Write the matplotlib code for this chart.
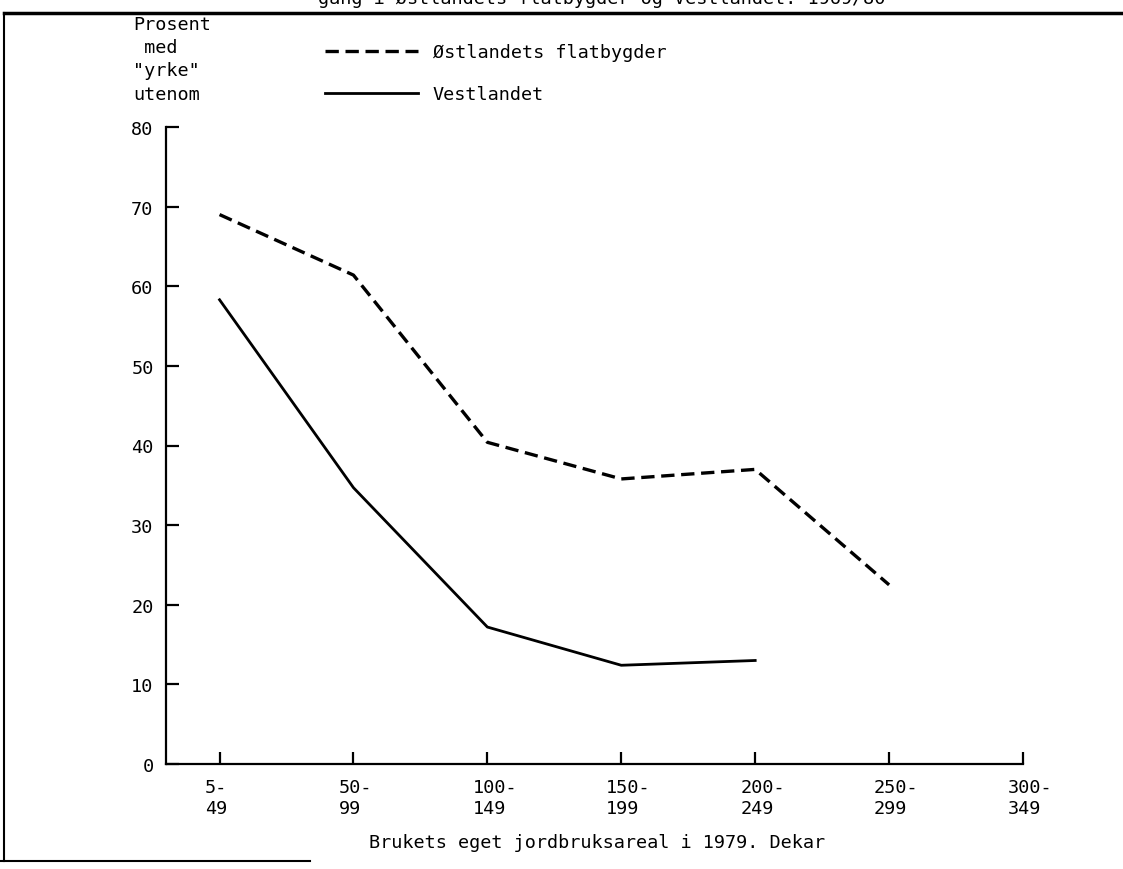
import matplotlib.pyplot as plt
import matplotlib.transforms as mtransforms
from matplotlib.lines import Line2D

# arealgrupper (dekar) og prosent med "yrke" utenom
groups = ["5-\n49", "50-\n99", "100-\n149", "150-\n199", "200-\n249", "250-\n299", "300-\n349"]
ostlandet = [69.0, 61.4, 40.4, 35.8, 37.0, 22.5]
vestlandet = [58.3, 34.7, 17.2, 12.4, 13.0]
yticks = [0, 10, 20, 30, 40, 50, 60, 70, 80]

W, H = 1123, 870
plt.rcParams["font.family"] = ["DejaVu Sans Mono"]
plt.rcParams["font.size"] = 13.3

fig = plt.figure(figsize=(W / 100, H / 100), dpi=100)

def fx(px):
    return px / W

def fy(py):
    return 1 - py / H

ax = fig.add_axes([fx(166), fy(765), fx(1023) - fx(166), fy(128) - fy(765)])

l1, = ax.plot(range(len(ostlandet)), ostlandet, color="black", lw=2.4,
              linestyle=(0, (4.0, 2.0)), dash_capstyle="butt")
l2, = ax.plot(range(len(vestlandet)), vestlandet, color="black", lw=2.0)

ax.set_xlim(-0.4, len(groups) - 1)
ax.set_ylim(0, 80)
for s in ["top", "right"]:
    ax.spines[s].set_visible(False)
for s in ["left", "bottom"]:
    ax.spines[s].set_linewidth(1.6)

ax.set_yticks(yticks)
ax.set_yticklabels([str(v) for v in yticks])
ax.set_xticks(range(len(groups)))
ax.set_xticklabels(groups, ha="left", multialignment="left", linespacing=1.25)
ax.tick_params(axis="both", direction="in", length=9, width=1.6, color="black")
ax.tick_params(axis="y", pad=9)
ax.tick_params(axis="x", pad=10)
offset = mtransforms.ScaledTranslation(-0.15, 0, fig.dpi_scale_trans)
for lab in ax.get_xticklabels():
    lab.set_transform(lab.get_transform() + offset)

fig.text(fx(597), fy(843), "Brukets eget jordbruksareal i 1979. Dekar",
         ha="center", va="center")

# y-aksetekst oppe til venstre
for txt, y in [("Prosent", 25), (" med", 48), ('"yrke"', 71), ("utenom", 95)]:
    fig.text(fx(133), fy(y), txt, ha="left", va="center")

fig.legend([l1, l2], ["Østlandets flatbygder", "Vestlandet"],
           loc="upper left", bbox_to_anchor=(fx(325), fy(44)),
           frameon=False, borderpad=0, borderaxespad=0,
           handlelength=5.03, handletextpad=0.8, labelspacing=1.3)

# avkuttet tittel og ramme fra originalen
fig.text(fx(318), fy(-1), "gang i Østlandets flatbygder og Vestlandet. 1969/80",
         ha="left", va="center")
fig.add_artist(Line2D([fx(4), 1], [fy(14), fy(14)], color="black", lw=2.5))
fig.add_artist(Line2D([fx(4), fx(4)], [fy(14), fy(862)], color="black", lw=1.5))
fig.add_artist(Line2D([0, fx(310)], [fy(862), fy(862)], color="black", lw=1.5))

fig.savefig("out.png", dpi=100)
